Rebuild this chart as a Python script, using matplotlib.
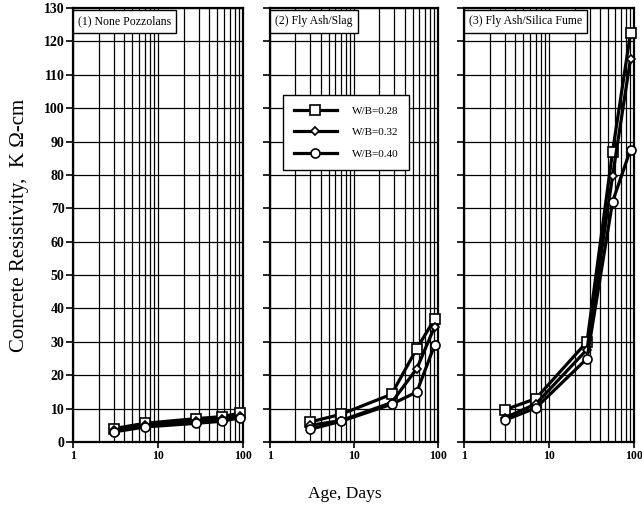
import numpy
import matplotlib
matplotlib.use("Agg")
import matplotlib.pyplot as pyplot
import matplotlib.ticker as ticker

pyplot.rcParams["font.family"] = ["Liberation Serif", "DejaVu Serif"]

# --- Data ---
ages = [3, 7, 28, 56, 91]
mixLabels = ["W/B=0.28", "W/B=0.32", "W/B=0.40"]
panelTitles = ["(1) None Pozzolans", "(2) Fly Ash/Slag", "(3) Fly Ash/Silica Fume"]

nonePozzolans = [
    [4.0, 5.6, 7.0, 7.6, 8.6],
    [3.6, 5.0, 6.4, 7.0, 7.8],
    [3.0, 4.5, 5.6, 6.2, 7.2],
]
flyAshSlag = [
    [6.0, 8.3, 14.3, 28.0, 36.8],
    [5.0, 6.4, 11.8, 22.0, 34.5],
    [3.8, 6.2, 11.3, 15.0, 29.0],
]
flyAshSilica = [
    [9.6, 13.0, 30.0, 87.0, 122.5],
    [7.2, 11.4, 27.7, 79.7, 114.8],
    [6.5, 10.2, 25.0, 72.0, 87.6],
]
panelData = [nonePozzolans, flyAshSlag, flyAshSilica]

yTicks = list(range(0, 131, 10))
xTickLabels = ["1", "10", "100"]

markers = ["s", "D", "o"]
markerSizes = [6.5, 4.2, 6.5]

figure = pyplot.figure(figsize=(6.42, 5.08), dpi=100)

panelLefts = [73, 270, 464]
panelWidths = [170, 168, 170]

axesList = []
for index in range(3):
    axes = figure.add_axes([panelLefts[index] / 642, 66 / 508,
                            panelWidths[index] / 642, 434 / 508])
    axesList.append(axes)
    axes.set_xscale("log")
    axes.set_xlim(1, 100)
    axes.set_ylim(0, 130)
    axes.set_yticks(yTicks)
    axes.xaxis.set_minor_locator(ticker.LogLocator(base=10, subs=numpy.arange(2, 10)))
    axes.xaxis.set_minor_formatter(ticker.NullFormatter())
    axes.set_xticks([1, 10, 100])
    axes.set_xticklabels(xTickLabels, fontsize=8.5, fontweight="bold")
    axes.grid(which="both", axis="x", color="black", linewidth=0.9)
    axes.grid(which="major", axis="y", color="black", linewidth=0.9)
    axes.set_axisbelow(True)
    for spine in axes.spines.values():
        spine.set_linewidth(1.6)
    axes.tick_params(axis="x", which="minor", length=0)
    axes.tick_params(axis="x", which="major", length=4, width=1.2, pad=2)
    axes.tick_params(axis="y", length=5, width=1.2, pad=1)
    if index == 0:
        axes.set_yticklabels([str(v) for v in yTicks], fontsize=10, fontweight="bold")
    else:
        axes.set_yticklabels([])

    for series, marker, size, label in zip(panelData[index], markers, markerSizes, mixLabels):
        axes.plot(ages, series, color="black", linewidth=2.3, marker=marker,
                  markersize=size, markerfacecolor="white", markeredgecolor="black",
                  markeredgewidth=1.2, label=label, clip_on=False, zorder=3)

    axes.text(5 / panelWidths[index], 0.983, panelTitles[index], transform=axes.transAxes,
              fontsize=8.5, va="top", ha="left", zorder=5,
              bbox=dict(boxstyle="square,pad=0.45", facecolor="white",
                        edgecolor="black", linewidth=1.0))

legend = axesList[1].legend(loc="upper left", bbox_to_anchor=(0.075, 0.80),
                            frameon=True, fancybox=False, fontsize=8,
                            handlelength=3.9, borderpad=1.0, labelspacing=1.05,
                            handletextpad=1.3, borderaxespad=0)
legend.get_frame().set_edgecolor("black")
legend.get_frame().set_linewidth(1.0)
legend.get_frame().set_alpha(1.0)
legend.set_zorder(6)

figure.text(0.03, 0.557, "Concrete Resistivity,  K \u03a9-cm", rotation=90,
            ha="center", va="center", fontsize=15)
figure.text(0.537, 0.028, "Age, Days", ha="center", va="center", fontsize=12.5)

pyplot.savefig("out.png", dpi=100)
